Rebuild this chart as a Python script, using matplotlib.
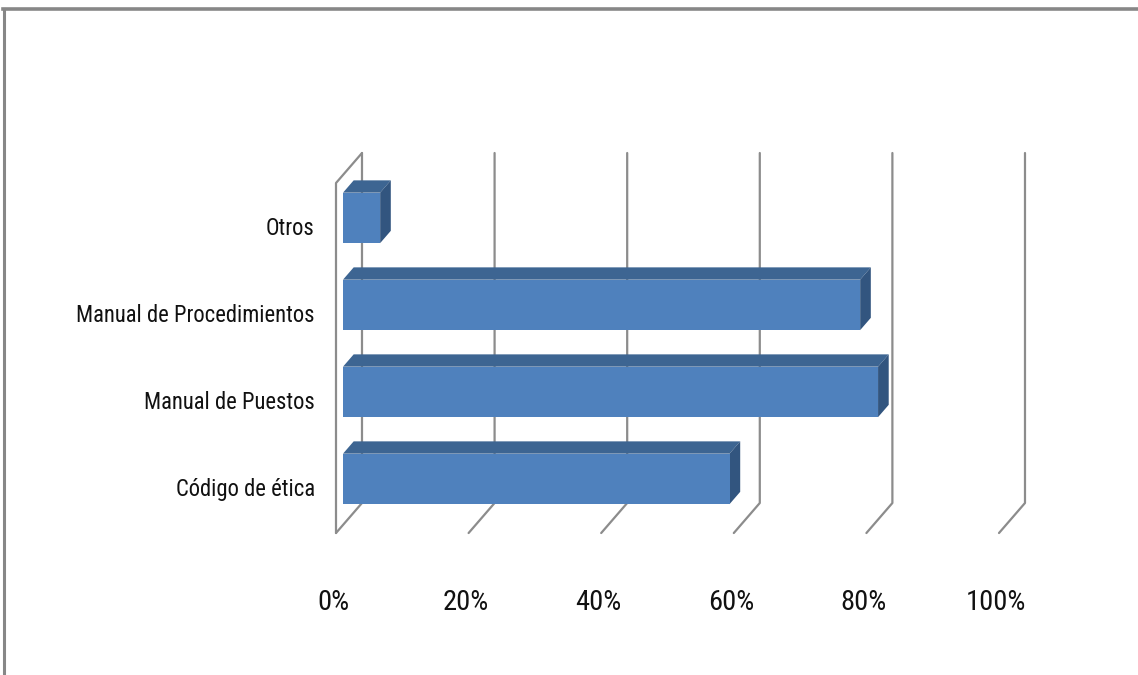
"""3D-style horizontal bar chart (Excel look) rebuilt with matplotlib patches."""

import matplotlib
matplotlib.use("Agg")
import matplotlib.pyplot as plt
from matplotlib.patches import Polygon
from matplotlib.lines import Line2D


categories = ["Código de ética", "Manual de Puestos", "Manual de Procedimientos", "Otros"]
values = [58.3, 80.7, 78.0, 5.6]
ticks = [0, 20, 40, 60, 80, 100]
tick_labels = ["0%", "20%", "40%", "60%", "80%", "100%"]

# projection: z=0 is the front plane, z=1 the back wall
DX = 3.92      # percent shift per unit of depth
DY = 0.345     # category shift per unit of depth
FLOOR = -0.529
TOP = 3.494
BAR_Z0, BAR_Z1 = 0.27, 0.68
BAR_H = 0.29

FRONT = "#4F81BD"
TOP_FACE = "#3D6592"
SIDE = "#32557F"
GRID = "#8C8C8C"
FONT = ["Liberation Sans Narrow", "Roboto Condensed", "DejaVu Sans Condensed", "Roboto", "DejaVu Sans"]


def proj(x, y, z):
    return (x + z * DX, y + z * DY)


def fit_width(texts, widest, target_px, renderer):
    """Scale a group of texts so that the widest one spans target_px."""
    w = widest.get_window_extent(renderer).width
    for t in texts:
        t.set_fontsize(t.get_fontsize() * target_px / w)


fig = plt.figure(figsize=(11.38, 6.75), dpi=100)
ax = fig.add_axes([0, 0, 1, 1])
ax.set_xlim(-336 / 6.63, (1138 - 336) / 6.63)
ax.set_ylim((487 - 675) / 87, 487 / 87)
ax.axis("off")

# walls and gridlines
grid_kw = dict(color=GRID, lw=1.6, solid_capstyle="round", zorder=1)
for t in ticks:
    xs, ys = zip(proj(t, TOP, 1), proj(t, FLOOR, 1), proj(t, FLOOR, 0))
    ax.plot(xs, ys, **grid_kw)
xs, ys = zip(proj(0, TOP, 1), proj(0, TOP, 0), proj(0, FLOOR, 0))
ax.plot(xs, ys, **grid_kw)

# bars
for i, v in enumerate(values):
    lo, hi = i - BAR_H, i + BAR_H
    top = [proj(0, hi, BAR_Z0), proj(v, hi, BAR_Z0), proj(v, hi, BAR_Z1), proj(0, hi, BAR_Z1)]
    side = [proj(v, lo, BAR_Z0), proj(v, hi, BAR_Z0), proj(v, hi, BAR_Z1), proj(v, lo, BAR_Z1)]
    front = [proj(0, lo, BAR_Z0), proj(v, lo, BAR_Z0), proj(v, hi, BAR_Z0), proj(0, hi, BAR_Z0)]
    ax.add_patch(Polygon(top, closed=True, fc=TOP_FACE, ec="none", zorder=3))
    ax.add_patch(Polygon(side, closed=True, fc=SIDE, ec="none", zorder=3))
    ax.add_patch(Polygon(front, closed=True, fc=FRONT, ec="none", zorder=4))

# labels
cat_texts = [ax.text(-3.2, i - 0.03, name, ha="right", va="center", fontsize=17,
                     family=FONT, color="#111111")
             for i, name in enumerate(categories)]
tick_texts = [ax.text(t - 0.4, -1.333, lab, ha="center", va="center", fontsize=21,
                      family=FONT, color="#111111")
              for t, lab in zip(ticks, tick_labels)]

renderer = fig.canvas.get_renderer()
fit_width(cat_texts, cat_texts[2], 238, renderer)
fit_width(tick_texts, tick_texts[-1], 60, renderer)

# outer chart frame (only top and left edges visible)
fig.add_artist(Line2D([4 / 1138, 4 / 1138], [0, 1 - 9 / 675], color="#878787", lw=2.2))
fig.add_artist(Line2D([3 / 1138, 1], [1 - 9 / 675, 1 - 9 / 675], color="#878787", lw=2.6))

fig.savefig("out.png", dpi=100)
